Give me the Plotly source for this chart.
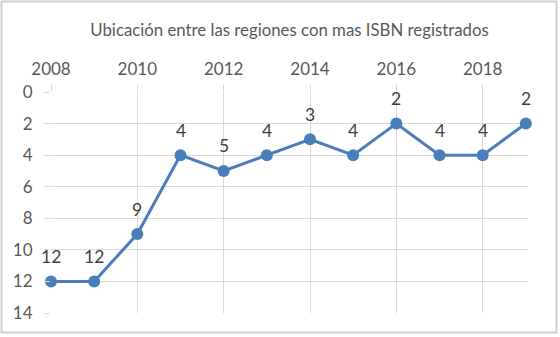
import plotly.graph_objects as go

# Ranking of the region by number of registered ISBNs, per year
years = [2008, 2009, 2010, 2011, 2012, 2013, 2014, 2015, 2016, 2017, 2018, 2019]
ranking = [12, 12, 9, 4, 5, 4, 3, 4, 2, 4, 4, 2]
year_ticks = [2008, 2010, 2012, 2014, 2016, 2018]
rank_ticks = [0, 2, 4, 6, 8, 10, 12, 14]

title_text = "Ubicación entre las regiones con mas ISBN registrados"

W, H = 560, 337
ML, MR, MT, MB = 51, 32, 92, 24
pw, ph = W - ML - MR, H - MT - MB

FONT = "Lato, Calibri, Arial, sans-serif"
BLUE = "#4a7ebb"
GRID = "#d9d9d9"

fig = go.Figure(
    go.Scatter(
        x=years,
        y=ranking,
        mode="lines+markers",
        line=dict(color=BLUE, width=3),
        marker=dict(color=BLUE, size=12),
        cliponaxis=False,
        hoverinfo="x+y",
    )
)

# Value labels above each point
for xv, yv in zip(years, ranking):
    fig.add_annotation(
        x=xv, y=yv, text=str(yv),
        showarrow=False,
        xanchor="center", yanchor="middle",
        yshift=25,
        font=dict(family=FONT, size=17.5, color="#404040"),
    )

# Light frame around the whole chart area
fig.add_shape(
    type="rect",
    xref="paper", yref="paper",
    x0=(1.5 - ML) / pw, x1=(W - 3.5 - ML) / pw,
    y0=-(H - 4.5 - MT - ph) / ph, y1=1 + (MT - 1.5) / ph,
    line=dict(color="#d0d0d0", width=2),
    layer="below",
)

fig.update_layout(
    width=W,
    height=H,
    margin=dict(l=ML, r=MR, t=MT, b=MB, pad=0),
    paper_bgcolor="white",
    plot_bgcolor="white",
    showlegend=False,
    title=dict(
        text=title_text,
        x=0.5,
        xref="paper",
        xanchor="center",
        y=1 - 30 / H,
        yanchor="middle",
        font=dict(family=FONT, size=16.8, color="#595959"),
    ),
    xaxis=dict(
        side="top",
        range=[2008, 2019.05],
        tickmode="array",
        tickvals=year_ticks,
        ticktext=[str(t) for t in year_ticks],
        showgrid=True,
        gridcolor=GRID,
        gridwidth=1,
        zeroline=False,
        showline=False,
        ticks="outside",
        ticklen=6,
        tickcolor=GRID,
        tickfont=dict(family=FONT, size=17, color="#595959"),
        ticklabelstandoff=3,
    ),
    yaxis=dict(
        range=[14, 0],
        tickmode="array",
        tickvals=rank_ticks,
        ticktext=[str(t) for t in rank_ticks],
        showgrid=True,
        gridcolor=GRID,
        gridwidth=1,
        zeroline=False,
        showline=False,
        ticks="outside",
        ticklen=6,
        tickcolor=GRID,
        tickfont=dict(family=FONT, size=17, color="#595959"),
        ticklabelstandoff=8,
    ),
)

fig.write_html("out.html")
